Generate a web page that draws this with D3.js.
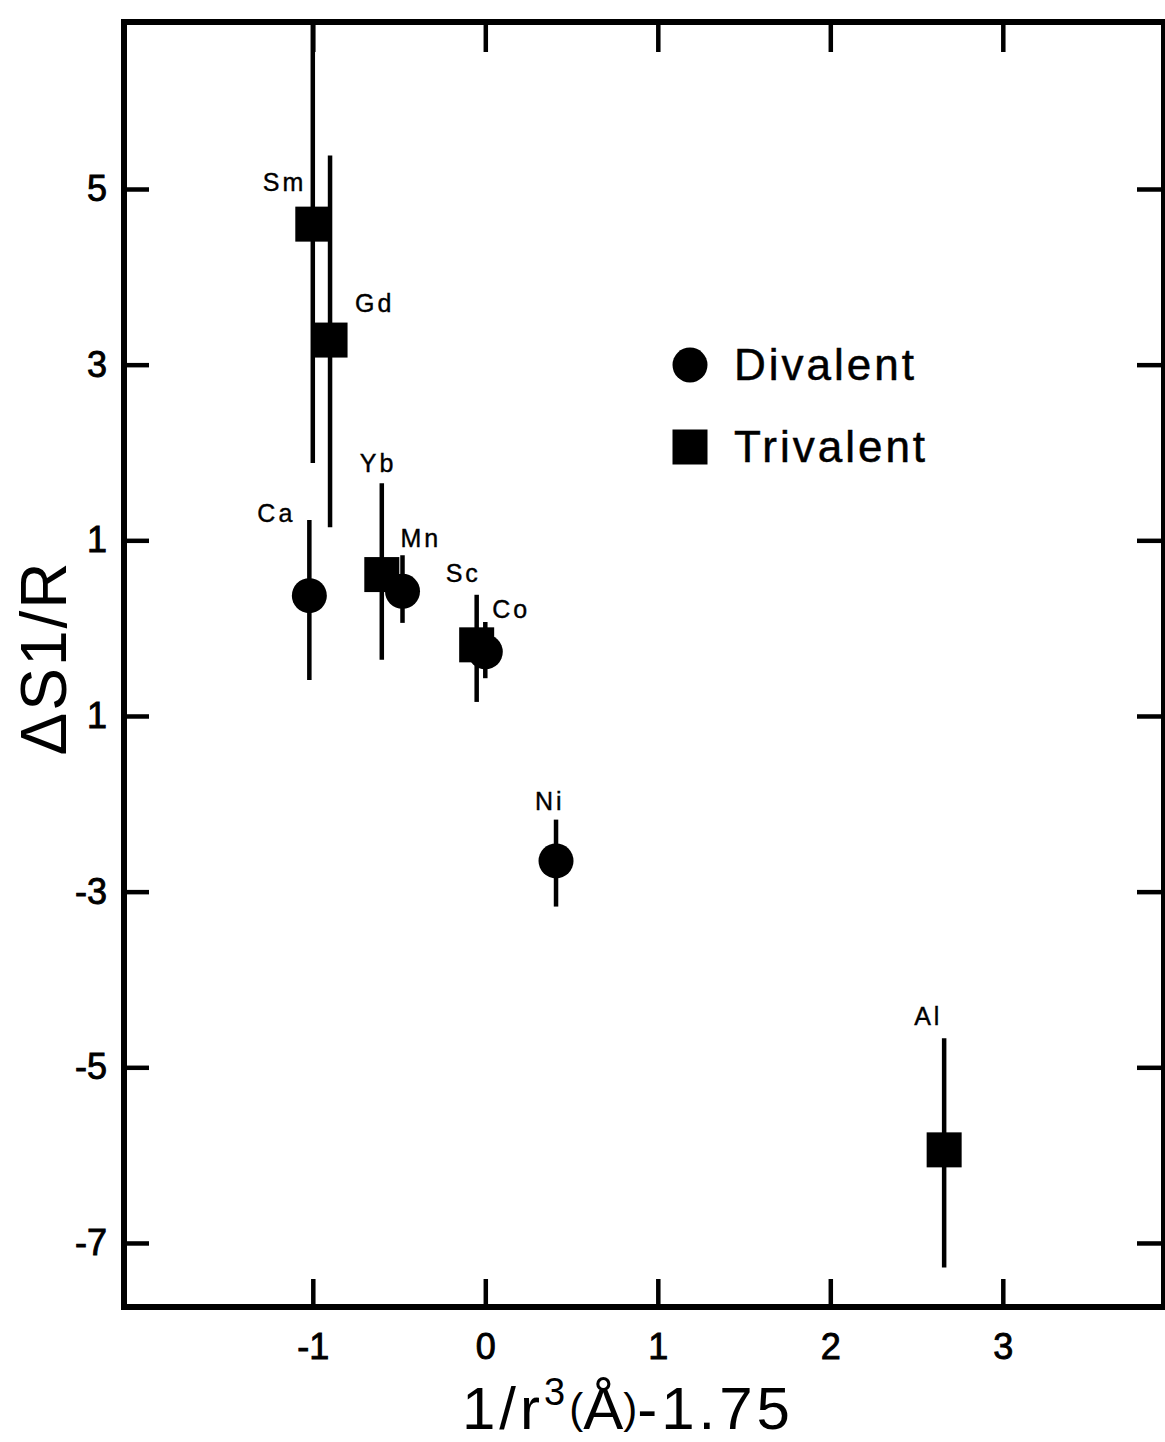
<!DOCTYPE html>
<html>
<head>
<meta charset="utf-8">
<script src="https://cdn.jsdelivr.net/npm/d3@7"></script>
<style>
  html, body { margin: 0; padding: 0; background: #fff; }
  svg { display: block; }
  text { font-family: "Liberation Sans", Arial, Helvetica, sans-serif; fill: #000; }
</style>
</head>
<body>
<svg id="chart" width="1165" height="1442"></svg>
<script>
// Ions, their valence and the measured entropy term with its error range
const elements = ["Sm", "Gd", "Ca", "Yb", "Mn", "Sc", "Co", "Ni", "Al"];
const valence  = ["Trivalent", "Trivalent", "Divalent", "Trivalent", "Divalent", "Trivalent", "Divalent", "Divalent", "Trivalent"];
const xValues  = [-1.00, -0.90, -1.02, -0.60, -0.48, -0.05, 0.00, 0.41, 2.66];
const yValues  = [4.60, 3.28, 0.37, 0.61, 0.42, -0.19, -0.27, -2.65, -5.94];
const yLow     = [1.88, 1.15, -0.59, -0.36, 0.06, -0.84, -0.57, -3.17, -7.28];
const yHigh    = [6.90, 5.38, 1.23, 1.65, 0.83, 0.38, 0.07, -2.18, -4.67];

const xTickValues = [-1, 0, 1, 2, 3];
const xTickLabels = ["-1", "0", "1", "2", "3"];
const yTickValues = [5, 3, 1, -1, -3, -5, -7];
const yTickLabels = ["5", "3", "1", "1", "-3", "-5", "-7"];
const legendItems = ["Divalent", "Trivalent"];

// label placement next to each marker (pixels)
const labelOffset = {
  Sm: [-50, -33], Gd: [25, -28], Ca: [-52, -74], Yb: [-22, -103], Mn: [-2, -44],
  Sc: [-31, -63], Co: [7, -34], Ni: [-21, -51], Al: [-30, -125]
};

const frame = { left: 124, top: 22, right: 1164, bottom: 1307 };

const x = d3.scaleLinear()
  .domain([-1, 3])
  .range([485.3 - 172.5, 485.3 + 3 * 172.5]);
const y = d3.scaleLinear()
  .domain([5, -7])
  .range([189, 189 + 12 * 87.83]);

const svg = d3.select("#chart");

const data = elements.map((e, i) => ({
  name: e, type: valence[i], x: xValues[i], y: yValues[i], lo: yLow[i], hi: yHigh[i]
}));

// axes with inward ticks on all four sides
function styleAxis(g) {
  g.select(".domain").remove();
  g.selectAll(".tick line").attr("stroke", "#000").attr("stroke-width", 4.5);
  g.selectAll(".tick text").attr("font-size", 36).attr("fill", "#000")
    .attr("stroke", "#000").attr("stroke-width", 0.9);
}

svg.append("g")
  .attr("transform", `translate(0,${frame.bottom})`)
  .call(d3.axisBottom(x).tickValues(xTickValues)
    .tickFormat((d, i) => xTickLabels[i]).tickSize(-28).tickPadding(26))
  .call(styleAxis)
  .attr("font-family", null);

svg.append("g")
  .attr("transform", `translate(0,${frame.top})`)
  .call(d3.axisTop(x).tickValues(xTickValues).tickFormat("").tickSize(-30))
  .call(styleAxis);

svg.append("g")
  .attr("transform", `translate(${frame.left},0)`)
  .call(d3.axisLeft(y).tickValues(yTickValues)
    .tickFormat((d, i) => yTickLabels[i]).tickSize(-25).tickPadding(17))
  .call(styleAxis)
  .attr("font-family", null);

svg.append("g")
  .attr("transform", `translate(${frame.right},0)`)
  .call(d3.axisRight(y).tickValues(yTickValues).tickFormat("").tickSize(-27))
  .call(styleAxis);

// plot frame
svg.append("rect")
  .attr("x", frame.left).attr("y", frame.top)
  .attr("width", frame.right - frame.left).attr("height", frame.bottom - frame.top)
  .attr("fill", "none").attr("stroke", "#000").attr("stroke-width", 6);

// error bars
svg.append("g").selectAll("line").data(data).join("line")
  .attr("x1", d => x(d.x)).attr("x2", d => x(d.x))
  .attr("y1", d => Math.max(y(d.hi), frame.top)).attr("y2", d => y(d.lo))
  .attr("stroke", "#000").attr("stroke-width", 4.5);

// markers
const circleR = 17.5, squareS = 35;
const marks = svg.append("g");
marks.selectAll("circle").data(data.filter(d => d.type === "Divalent")).join("circle")
  .attr("cx", d => x(d.x)).attr("cy", d => y(d.y)).attr("r", circleR).attr("fill", "#000");
marks.selectAll("rect").data(data.filter(d => d.type === "Trivalent")).join("rect")
  .attr("x", d => x(d.x) - squareS / 2).attr("y", d => y(d.y) - squareS / 2)
  .attr("width", squareS).attr("height", squareS).attr("fill", "#000");

// element labels
svg.append("g").selectAll("text").data(data).join("text")
  .attr("x", d => x(d.x) + labelOffset[d.name][0])
  .attr("y", d => y(d.y) + labelOffset[d.name][1])
  .attr("font-size", 25).attr("letter-spacing", 3)
  .attr("stroke", "#000").attr("stroke-width", 0.4)
  .text(d => d.name);

// legend
const legend = svg.append("g").attr("transform", "translate(690,365)");
legendItems.forEach((lab, i) => {
  const g = legend.append("g").attr("transform", `translate(0,${i * 82})`);
  if (lab === "Divalent") {
    g.append("circle").attr("r", circleR).attr("fill", "#000");
  } else {
    g.append("rect").attr("x", -squareS / 2).attr("y", -squareS / 2)
      .attr("width", squareS).attr("height", squareS).attr("fill", "#000");
  }
  g.append("text").attr("x", 44).attr("y", 15)
    .attr("font-size", 44).attr("letter-spacing", 3)
    .attr("stroke", "#000").attr("stroke-width", 0.5).text(lab);
});

// axis titles
svg.append("text")
  .attr("transform", "translate(66,658) rotate(-90)")
  .attr("text-anchor", "middle")
  .attr("font-size", 64)
  .attr("letter-spacing", 2)
  .text("ΔS1/R");

const xt = svg.append("text")
  .attr("x", 462).attr("y", 1429)
  .attr("font-size", 60).attr("letter-spacing", 4);
xt.append("tspan").text("1/r");
xt.append("tspan").attr("font-size", 38).attr("dy", -24).text("3");
xt.append("tspan").attr("font-size", 42).attr("dy", 18).attr("letter-spacing", 0).text("(");
xt.append("tspan").attr("dy", 6).attr("letter-spacing", 0).text("Å");
xt.append("tspan").attr("font-size", 42).attr("dy", -6).attr("letter-spacing", 0).text(")");
xt.append("tspan").attr("dy", 6).text("-1.75");
</script>
</body>
</html>
